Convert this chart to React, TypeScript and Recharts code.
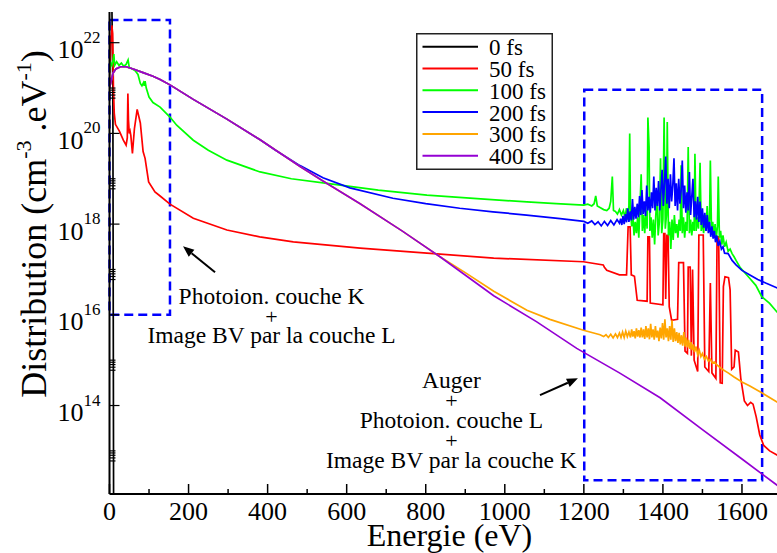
import React from 'react';
import {
  LineChart,
  Line,
  XAxis,
  YAxis,
  Legend,
  ReferenceArea,
  ReferenceLine,
  ReferenceDot,
} from 'recharts';

const FONT = '"Liberation Serif", "Times New Roman", Times, serif';

// every point is [energy (eV), log10 of distribution (cm-3.eV-1)]
type Pt = [number, number];

const seriesNames = ['0 fs', '50 fs', '100 fs', '200 fs', '300 fs', '400 fs'];
const seriesColors = ['#000000', '#ff0000', '#00ff00', '#0000ff', '#ffa500', '#9400d3'];

const xTicks = [0, 100, 200, 300, 400, 500, 600, 700, 800, 900, 1000, 1100, 1200, 1300, 1400, 1500, 1600, 1700];
const yMajorExp = [14, 16, 18, 20, 22];
const yMinorExp = [13, 15, 17, 19, 21];
const yMinorFactors = [0.6, 0.7, 0.8, 0.9, 1];

const fs0: Pt[] = [[0, 22.9], [6, 22.85], [8.5, 21.0], [9.5, 16.0], [10.5, 11.0]];

const fs50: Pt[] = [
  [0, 21.2], [3, 21.9], [6, 22.38], [8, 22.2], [10, 21.0], [12, 20.45], [15, 20.2], [25, 20.05],
  [35, 19.85], [42, 19.74], [45, 19.9], [46.5, 20.88], [48, 20.3], [50, 20.0], [52, 20.05], [54, 19.95],
  [58, 19.56], [63, 20.1], [70, 20.53], [78, 20.23], [85, 19.6], [90, 19.45], [99, 18.93], [115, 18.71],
  [128, 18.62], [153, 18.44], [212, 18.13], [297, 17.87], [380, 17.72], [465, 17.61], [634, 17.47],
  [803, 17.36], [972, 17.25], [1199, 17.17], [1249, 17.1], [1252, 17.05], [1258, 16.98], [1290, 16.88],
  [1308, 16.88], [1312, 17.94], [1317, 17.94], [1320, 16.88], [1328, 16.85], [1335, 16.32], [1360, 16.3],
  [1362, 17.72], [1366, 17.72], [1368, 16.26], [1400, 16.22], [1402, 17.79], [1405, 17.79], [1407, 16.35],
  [1410, 17.75], [1413, 17.75], [1416, 16.18], [1422, 15.88], [1437, 15.9], [1440, 17.15], [1452, 17.15],
  [1456, 15.2], [1462, 15.15], [1464, 17.05], [1469, 17.05], [1472, 15.1], [1475, 17.0], [1479, 15.0],
  [1488, 14.75], [1491, 17.76], [1502, 17.76], [1506, 14.85], [1516, 14.75], [1520, 16.7], [1524, 14.72],
  [1534, 14.6], [1537, 17.72], [1541, 17.72], [1545, 14.5], [1550, 14.49], [1553, 16.62], [1557, 16.84],
  [1566, 16.82], [1570, 16.55], [1574, 14.8], [1580, 14.85], [1583, 15.22], [1591, 15.18], [1597, 14.6],
  [1606, 14.1], [1614, 14.0], [1622, 14.07], [1628, 14.03], [1636, 13.75], [1645, 13.35], [1655, 13.12],
  [1670, 13.0], [1700, 12.85],
];

const fs100: Pt[] = [
  [0, 21.35], [3, 21.55], [6, 21.5], [9, 21.62], [11, 21.75], [13, 21.5], [18, 21.58], [24, 21.5],
  [30, 21.55], [36, 21.48], [42, 21.52], [47, 21.62], [50, 21.45], [58, 21.42], [65, 21.38], [72, 21.3],
  [78, 21.1], [82, 21.05], [86, 21.12], [88, 21.05], [90, 21.15], [93, 21.0], [100, 20.8], [110, 20.68],
  [128, 20.58], [153, 20.36], [170, 20.18], [212, 19.85], [250, 19.63], [297, 19.41], [381, 19.15],
  [460, 19.0], [550, 18.9], [680, 18.75], [803, 18.64], [930, 18.56], [1056, 18.49], [1130, 18.45],
  [1200, 18.42], [1210, 18.44], [1220, 18.4], [1226, 18.45], [1230, 18.62], [1234, 18.4], [1242, 18.36],
  [1250, 18.32], [1258, 18.3], [1264, 18.35], [1268, 18.5], [1272, 19.05], [1275, 18.3], [1280, 18.28],
  [1285, 18.22], [1290, 18.32], [1295, 18.2], [1300, 18.3], [1304, 18.15], [1308, 18.35], [1311, 18.1],
  [1314, 18.4], [1316, 20.0], [1318, 18.3], [1321, 17.95], [1324, 18.2], [1327, 17.75], [1330, 18.05],
  [1333, 17.8], [1336, 18.15], [1339, 17.7], [1342, 18.4], [1345, 19.1], [1348, 17.85], [1351, 18.2],
  [1354, 17.8], [1357, 18.3], [1360, 17.9], [1362, 20.35], [1365, 19.7], [1367, 17.85], [1370, 18.15],
  [1373, 17.7], [1376, 18.1], [1379, 17.55], [1382, 18.2], [1385, 18.6], [1388, 17.75], [1391, 18.05],
  [1394, 19.45], [1397, 17.8], [1400, 18.1], [1403, 20.35], [1406, 17.9], [1409, 18.2], [1411, 20.25],
  [1414, 17.75], [1417, 18.05], [1420, 17.45], [1423, 18.1], [1426, 17.65], [1429, 18.2], [1432, 17.8],
  [1435, 18.0], [1438, 17.7], [1441, 18.1], [1444, 17.85], [1446, 19.3], [1449, 17.8], [1452, 18.15],
  [1455, 17.7], [1458, 18.05], [1461, 17.85], [1464, 19.7], [1467, 17.8], [1470, 18.1], [1473, 17.75],
  [1476, 18.05], [1479, 17.85], [1481, 19.55], [1484, 17.85], [1487, 18.15], [1490, 17.9], [1494, 19.35],
  [1497, 17.85], [1500, 18.1], [1503, 17.8], [1506, 18.2], [1509, 17.85], [1512, 18.4], [1515, 17.9],
  [1518, 18.1], [1520, 19.4], [1523, 17.8], [1526, 18.05], [1529, 17.75], [1532, 18.0], [1535, 17.7],
  [1538, 17.95], [1540, 19.05], [1543, 17.7], [1546, 17.85], [1549, 17.55], [1552, 17.75], [1556, 17.5],
  [1560, 17.6], [1565, 17.4], [1570, 17.45], [1575, 17.35], [1580, 17.28], [1585, 17.2], [1595, 17.05],
  [1605, 16.95], [1620, 16.8], [1635, 16.65], [1650, 16.4], [1670, 16.25], [1700, 15.95],
];

// 200, 300 and 400 fs coincide at low energy
const sharedLow: Pt[] = [
  [0, 21.0], [4, 21.15], [9, 21.33], [16, 21.42], [28, 21.47], [42, 21.47], [60, 21.42], [85, 21.34],
  [110, 21.26], [128, 21.19], [153, 21.07], [212, 20.75], [296, 20.32], [381, 19.86],
];

const fs200: Pt[] = [
  ...sharedLow,
  [420, 19.63], [482, 19.29], [540, 19.02], [608, 18.8], [717, 18.57], [800, 18.45], [886, 18.35],
  [970, 18.27], [1055, 18.2], [1140, 18.12], [1200, 18.06], [1210, 18.02], [1220, 18.07], [1228, 17.99],
  [1236, 18.05], [1244, 17.96], [1252, 18.06], [1260, 17.97], [1268, 18.08], [1276, 17.98], [1284, 18.1],
  [1290, 18.02], [1293, 18.12], [1296, 17.98], [1299, 18.18], [1302, 18.0], [1305, 18.22], [1308, 18.04],
  [1311, 18.35], [1314, 18.05], [1317, 18.28], [1320, 18.08], [1323, 18.55], [1326, 18.1], [1329, 18.38],
  [1332, 18.12], [1335, 18.45], [1338, 18.15], [1341, 18.62], [1344, 18.2], [1347, 18.75], [1350, 18.22],
  [1353, 18.5], [1356, 18.18], [1359, 18.85], [1362, 18.3], [1365, 18.6], [1368, 18.25], [1371, 18.7],
  [1374, 18.35], [1377, 19.05], [1380, 18.3], [1383, 18.8], [1386, 18.4], [1389, 18.95], [1392, 18.3],
  [1395, 18.75], [1398, 19.2], [1401, 18.4], [1404, 18.9], [1407, 19.49], [1410, 18.45], [1413, 19.0],
  [1416, 18.35], [1419, 19.1], [1422, 18.5], [1425, 18.85], [1428, 19.45], [1431, 18.4], [1434, 18.9],
  [1437, 18.3], [1440, 19.0], [1443, 18.45], [1446, 18.75], [1449, 19.4], [1452, 18.35], [1455, 18.85],
  [1458, 18.25], [1461, 18.7], [1464, 18.3], [1467, 19.15], [1470, 18.2], [1473, 18.6], [1476, 19.0],
  [1479, 18.15], [1482, 18.5], [1485, 18.1], [1488, 18.6], [1491, 18.05], [1494, 18.5], [1497, 17.98],
  [1500, 18.35], [1503, 17.92], [1506, 18.25], [1509, 17.85], [1512, 18.2], [1515, 17.8], [1518, 18.05],
  [1521, 17.72], [1524, 17.95], [1527, 17.68], [1530, 17.85], [1533, 17.6], [1536, 17.75], [1540, 17.52],
  [1544, 17.62], [1548, 17.45], [1552, 17.5], [1556, 17.36], [1565, 17.35], [1575, 17.2], [1585, 17.1],
  [1600, 16.98], [1620, 16.88], [1640, 16.78], [1660, 16.7], [1700, 16.55],
];

const fs300: Pt[] = [
  ...sharedLow,
  [482, 19.27], [540, 18.95], [634, 18.45], [740, 17.85], [836, 17.28], [900, 16.93], [972, 16.52],
  [1056, 16.1], [1114, 15.9], [1199, 15.66], [1241, 15.56], [1250, 15.52], [1256, 15.56], [1262, 15.5],
  [1268, 15.57], [1274, 15.49], [1280, 15.58], [1285, 15.5], [1290, 15.6], [1294, 15.5], [1298, 15.62],
  [1302, 15.5], [1306, 15.64], [1310, 15.52], [1314, 15.62], [1318, 15.5], [1321, 15.68], [1324, 15.52],
  [1327, 15.64], [1330, 15.48], [1333, 15.7], [1336, 15.52], [1339, 15.66], [1342, 15.5], [1345, 15.72],
  [1348, 15.5], [1351, 15.68], [1354, 15.47], [1357, 15.75], [1360, 15.5], [1363, 15.7], [1366, 15.46],
  [1369, 15.8], [1372, 15.5], [1375, 15.68], [1378, 15.45], [1381, 15.75], [1384, 15.5], [1387, 15.65],
  [1390, 15.42], [1393, 15.72], [1396, 15.48], [1399, 15.82], [1402, 15.45], [1405, 15.9], [1408, 15.5],
  [1411, 15.7], [1414, 15.42], [1417, 15.75], [1420, 15.45], [1423, 15.88], [1426, 15.4], [1429, 15.7],
  [1432, 15.42], [1435, 15.62], [1438, 15.38], [1441, 15.6], [1444, 15.35], [1447, 15.55], [1450, 15.32],
  [1453, 15.62], [1456, 15.3], [1459, 15.5], [1462, 15.28], [1465, 15.45], [1468, 15.25], [1471, 15.4],
  [1474, 15.22], [1477, 15.35], [1480, 15.18], [1484, 15.3], [1488, 15.12], [1492, 15.22], [1496, 15.08],
  [1500, 15.15], [1505, 15.02], [1510, 15.08], [1515, 14.98], [1520, 15.02], [1525, 14.94], [1530, 14.96],
  [1536, 14.9], [1550, 14.8], [1565, 14.72], [1580, 14.63], [1600, 14.52], [1620, 14.43], [1650, 14.28],
  [1700, 14.02],
];

const fs400: Pt[] = [
  ...sharedLow,
  [482, 19.27], [540, 18.95], [634, 18.45], [740, 17.85], [836, 17.28], [972, 16.42], [1080, 15.85],
  [1182, 15.26], [1290, 14.72], [1393, 14.17], [1500, 13.47], [1600, 12.82], [1700, 12.17],
];

const allSeries = [fs0, fs50, fs100, fs200, fs300, fs400];

const toRows = (pts: Pt[]) => pts.map(([x, l]) => ({ x, y: Math.pow(10, l) }));

// boxes around the two regions: [E1, E2, log1, log2]
const boxLow = [0, 153, 16, 22.5];
const boxHigh = [1201, 1651, 12.35, 20.96];

// arrows: tail then head, [E, log10]
const arrowLow: Pt[] = [[267, 16.94], [186, 17.51]];
const arrowHigh: Pt[] = [[1089, 14.23], [1185, 14.6]];

const noteLow = { x: 410, log: 16.24, lines: ['Photoion. couche K', '+', 'Image BV par la couche L'] };
const noteHigh = {
  x: 865,
  log: 14.38,
  lines: ['Auger', '+', 'Photoion. couche L', '+', 'Image BV par la couche K'],
};

const yTicks = [
  ...yMinorExp.flatMap((e) => yMinorFactors.map((f) => f * Math.pow(10, e))),
  ...yMajorExp.map((e) => Math.pow(10, e)),
].sort((a, b) => a - b);

const yDomain = [1.12e12, 4.75e22];

const isMajorY = (v: number) => {
  const e = Math.log10(v);
  const r = Math.round(e);
  return Math.abs(e - r) < 1e-6 && r % 2 === 0;
};

const BottomTick = ({ x, y, payload }: any) => {
  const major = payload.value % 200 === 0;
  return (
    <g>
      <line x1={x} y1={y} x2={x} y2={y - (major ? 10 : 5)} stroke="#000" strokeWidth={1.5} />
      {major && (
        <text x={x} y={y + 26} textAnchor="middle" fontSize={26} fontFamily={FONT} fill="#000">
          {payload.value}
        </text>
      )}
    </g>
  );
};

const TopTick = ({ x, y, payload }: any) => {
  const major = payload.value % 200 === 0;
  return <line x1={x} y1={y} x2={x} y2={y + (major ? 10 : 5)} stroke="#000" strokeWidth={1.5} />;
};

const LeftTick = ({ x, y, payload }: any) => {
  const major = isMajorY(payload.value);
  const exp = Math.round(Math.log10(payload.value));
  return (
    <g>
      <line x1={x} y1={y} x2={x + (major ? 10 : 6)} y2={y} stroke="#000" strokeWidth={1.2} />
      {major && (
        <text x={x - 9} y={y + 15.5} textAnchor="end" fontFamily={FONT} fill="#000">
          <tspan fontSize={26}>10</tspan>
          <tspan fontSize={17} dy={-15.5}>
            {exp}
          </tspan>
        </text>
      )}
    </g>
  );
};

const RightTick = ({ x, y, payload }: any) => {
  const major = isMajorY(payload.value);
  return <line x1={x} y1={y} x2={x - (major ? 10 : 6)} y2={y} stroke="#000" strokeWidth={1.2} />;
};

const YTitle = ({ viewBox }: any) => {
  const cx = 46;
  const cy = viewBox.y + viewBox.height / 2 - 29;
  return (
    <text
      x={cx}
      y={cy}
      transform={`rotate(-90, ${cx}, ${cy})`}
      textAnchor="middle"
      fontFamily={FONT}
      fontSize={36}
      fill="#000"
    >
      Distribution (cm
      <tspan fontSize={22} dy={-15}>
        -3
      </tspan>
      <tspan dy={15}> .eV</tspan>
      <tspan fontSize={22} dy={-15}>
        -1
      </tspan>
      <tspan dy={15}>)</tspan>
    </text>
  );
};

const XTitle = ({ viewBox }: any) => (
  <text
    x={viewBox.x + viewBox.width / 2 + 4}
    y={546}
    textAnchor="middle"
    fontFamily={FONT}
    fontSize={32}
    fill="#000"
  >
    Energie (eV)
  </text>
);

const Arrow = ({ x1, y1, x2, y2 }: any) => {
  const ang = Math.atan2(y2 - y1, x2 - x1);
  const len = 11;
  const half = 4.5;
  const bx = x2 - len * Math.cos(ang);
  const by = y2 - len * Math.sin(ang);
  const px = -Math.sin(ang) * half;
  const py = Math.cos(ang) * half;
  return (
    <g>
      <line x1={x1} y1={y1} x2={bx} y2={by} stroke="#000" strokeWidth={2} />
      <polygon points={`${x2},${y2} ${bx + px},${by + py} ${bx - px},${by - py}`} fill="#000" />
    </g>
  );
};

const makeNote = (lines: string[], step: number) => ({ cx, cy }: any) => (
  <g>
    {lines.map((t, i) => (
      <text
        key={i}
        x={cx}
        y={cy + i * step}
        textAnchor="middle"
        fontFamily={FONT}
        fontSize={t === '+' ? 22 : 23.5}
        fill="#000"
      >
        {t}
      </text>
    ))}
  </g>
);

const LegendBox = ({ payload }: any) => {
  const items = seriesNames.map((n, i) => {
    const hit = (payload || []).find((p: any) => p.value === n);
    return { value: n, color: hit ? hit.color : seriesColors[i] };
  });
  return (
    <svg width={137} height={137} style={{ display: 'block' }}>
      <rect x={0.75} y={0.75} width={135.5} height={135.5} fill="#fff" stroke="#222" strokeWidth={1.5} />
      {items.map((it, i) => {
        const ly = 13.7 + i * 21.8;
        return (
          <g key={it.value}>
            <line x1={6.5} x2={62} y1={ly} y2={ly} stroke={it.color} strokeWidth={2} />
            <text x={73} y={ly + 8.5} fontFamily={FONT} fontSize={23} fill="#000">
              {it.value}
            </text>
          </g>
        );
      })}
    </svg>
  );
};

const boxStyle = {
  fill: 'none',
  stroke: '#0000ff',
  strokeWidth: 2.5,
  strokeDasharray: '9 5',
  fillOpacity: 0,
  ifOverflow: 'visible' as const,
};

export default function App() {
  return (
    <div
      style={{
        position: 'fixed',
        left: 0,
        top: 0,
        width: 777,
        height: 553,
        overflow: 'hidden',
        background: '#fff',
      }}
    >
      <LineChart width={800} height={553} margin={{ top: 12, right: 18.5, bottom: 0, left: 9.5 }}>
        <XAxis
          dataKey="x"
          type="number"
          domain={[0, 1700]}
          allowDataOverflow
          ticks={xTicks}
          interval={0}
          height={59}
          tickSize={0}
          tickMargin={0}
          tickLine={false}
          tick={<BottomTick />}
          axisLine={{ stroke: '#000', strokeWidth: 2 }}
          label={<XTitle />}
        />
        <XAxis
          xAxisId="top"
          orientation="top"
          type="number"
          domain={[0, 1700]}
          allowDataOverflow
          ticks={xTicks}
          interval={0}
          height={0}
          tickSize={0}
          tickMargin={0}
          tickLine={false}
          tick={<TopTick />}
          axisLine={{ stroke: '#000', strokeWidth: 2 }}
        />
        <YAxis
          type="number"
          scale="log"
          domain={yDomain}
          allowDataOverflow
          ticks={yTicks}
          interval={0}
          width={100}
          tickSize={0}
          tickMargin={0}
          tickLine={false}
          tick={<LeftTick />}
          axisLine={{ stroke: '#000', strokeWidth: 2 }}
          label={<YTitle />}
        />
        <YAxis
          yAxisId="right"
          orientation="right"
          type="number"
          scale="log"
          domain={yDomain}
          allowDataOverflow
          ticks={yTicks}
          interval={0}
          width={0}
          tickSize={0}
          tickMargin={0}
          tickLine={false}
          tick={<RightTick />}
          axisLine={{ stroke: '#000', strokeWidth: 2 }}
        />
        {allSeries.map((pts, i) => (
          <Line
            key={seriesNames[i]}
            data={toRows(pts)}
            dataKey="y"
            name={seriesNames[i]}
            type="linear"
            stroke={seriesColors[i]}
            strokeWidth={1.7}
            dot={false}
            activeDot={false}
            isAnimationActive={false}
          />
        ))}
        <ReferenceArea
          x1={boxLow[0]}
          x2={boxLow[1]}
          y1={Math.pow(10, boxLow[2])}
          y2={Math.pow(10, boxLow[3])}
          {...boxStyle}
        />
        <ReferenceArea
          x1={boxHigh[0]}
          x2={boxHigh[1]}
          y1={Math.pow(10, boxHigh[2])}
          y2={Math.pow(10, boxHigh[3])}
          {...boxStyle}
        />
        {[arrowLow, arrowHigh].map((a, i) => (
          <ReferenceLine
            key={i}
            segment={a.map(([x, l]) => ({ x, y: Math.pow(10, l) }))}
            shape={(p: any) => <Arrow {...p} />}
            ifOverflow="visible"
          />
        ))}
        <ReferenceDot
          x={noteLow.x}
          y={Math.pow(10, noteLow.log)}
          r={0}
          ifOverflow="visible"
          shape={makeNote(noteLow.lines, 19.7)}
        />
        <ReferenceDot
          x={noteHigh.x}
          y={Math.pow(10, noteHigh.log)}
          r={0}
          ifOverflow="visible"
          shape={makeNote(noteHigh.lines, 20)}
        />
        <Legend
          layout="vertical"
          align="center"
          verticalAlign="middle"
          content={<LegendBox />}
          wrapperStyle={{ left: 416, top: 33, width: 137, height: 137 }}
        />
      </LineChart>
    </div>
  );
}
